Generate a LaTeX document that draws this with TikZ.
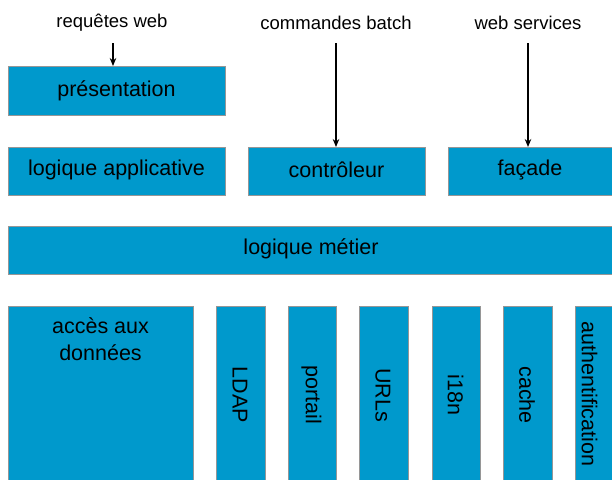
\documentclass[tikz,border=0pt]{standalone}
\usepackage{fontspec}
\setmainfont{Liberation Sans}
\usetikzlibrary{arrows.meta}
\definecolor{boxblue}{RGB}{0,153,204}
\definecolor{boxline}{RGB}{150,150,150}
\tikzset{
  layer/.style={draw=boxline, line width=0.9pt, fill=boxblue},
  boxtext/.style={font=\fontsize{21.5}{27}\selectfont, text=black, inner sep=0pt},
  toptext/.style={font=\fontsize{18.5}{22}\selectfont, text=black, inner sep=0pt},
  flow/.style={-{Stealth[length=8pt,width=6.5pt]}, line width=1.3pt, black}
}
\begin{document}
\begin{tikzpicture}[x=1pt,y=-1pt]
\useasboundingbox (0,0) rectangle (612,479);
\clip (0,0) rectangle (612,479);
% boxes
\path[layer] (8,66) rectangle (225,115);
\node[boxtext] (pres) at (116.5,90.5) {présentation};
\path[layer] (8,147) rectangle (225,195);
\node[boxtext] (logapp) at (116.5,169.5) {logique applicative};
\path[layer] (248,147) rectangle (425,195);
\node[boxtext] (ctrl) at (336.5,169.5) {contrôleur};
\path[layer] (448,147) rectangle (616,195);
\node[boxtext] (facade) at (530,169.5) {façade};
\path[layer] (8,226) rectangle (616,274);
\node[boxtext] (metier) at (311,248.5) {logique métier};
\path[layer] (8,306) rectangle (193,486);
\node[boxtext, align=center, anchor=north] (acces) at (100.5,317) {accès aux\\données};
\path[layer] (216,306) rectangle (265,486);
\node[boxtext, rotate=-90] (ldap) at (240,395) {LDAP};
\path[layer] (288,306) rectangle (336,486);
\node[boxtext, rotate=-90] (portail) at (311.5,395) {portail};
\path[layer] (359,306) rectangle (408,486);
\node[boxtext, rotate=-90] (urls) at (383,395) {URLs};
\path[layer] (432,306) rectangle (480,486);
\node[boxtext, rotate=-90] (i18n) at (455.5,395) {i18n};
\path[layer] (503,306) rectangle (552,486);
\node[boxtext, rotate=-90] (cache) at (527,395) {cache};
\path[layer] (575,306) rectangle (624,486);
\node[boxtext, rotate=-90] (auth) at (589.5,394) {authentification};
% top labels
\node[toptext] (req) at (112,22.5) {requêtes web};
\node[toptext] (batch) at (336,22.5) {commandes batch};
\node[toptext] (ws) at (528,22.5) {web services};
\coordinate (reqs) at (113,43);
\coordinate (reqe) at (113,66);
\coordinate (bats) at (336,43);
\coordinate (bate) at (336,147);
\coordinate (wss) at (528,43);
\coordinate (wse) at (528,147);
\draw[flow] (reqs) -- (reqe);
\draw[flow] (bats) -- (bate);
\draw[flow] (wss) -- (wse);
\end{tikzpicture}
\end{document}
